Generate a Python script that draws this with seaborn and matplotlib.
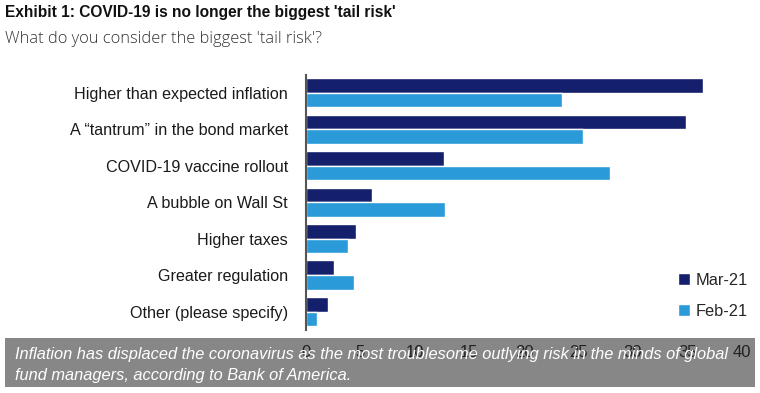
import pandas as pd
import seaborn as sns
import matplotlib.pyplot as plt
from matplotlib.patches import Rectangle

# Chart data
categories = [
    "Higher than expected inflation",
    "A \u201ctantrum\u201d in the bond market",
    "COVID-19 vaccine rollout",
    "A bubble on Wall St",
    "Higher taxes",
    "Greater regulation",
    "Other (please specify)",
]
mar_21 = [36.4, 34.9, 12.7, 6.1, 4.6, 2.6, 2.0]
feb_21 = [23.5, 25.4, 27.9, 12.8, 3.9, 4.4, 1.0]
series = ["Mar-21", "Feb-21"]
x_ticks = [0, 5, 10, 15, 20, 25, 30, 35, 40]

df = pd.DataFrame({
    "risk": categories * 2,
    "share": mar_21 + feb_21,
    "month": [series[0]] * len(categories) + [series[1]] * len(categories),
})

sns.set_theme(style="white")
plt.rcParams["font.family"] = ["Liberation Sans", "DejaVu Sans"]

fig = plt.figure(figsize=(7.6, 3.93), dpi=100)
ax = fig.add_axes([0.4026, 0.161, 0.5737, 0.649])
ax.set_zorder(2)
ax.patch.set_alpha(0)

sns.barplot(data=df, y="risk", x="share", hue="month", order=categories,
            hue_order=series, palette=["#14206b", "#2b9ad8"], saturation=1,
            width=0.8, orient="h", ax=ax)

ax.set_xlim(0, 40)
ax.set_xticks(x_ticks)
ax.set_xlabel("")
ax.set_ylabel("")
for s in ["top", "right", "bottom"]:
    ax.spines[s].set_visible(False)
ax.spines["left"].set_color("#555555")
ax.spines["left"].set_linewidth(1.5)
ax.tick_params(axis="y", length=0, pad=13, labelsize=11.6, labelcolor="#1a1a1a")
ax.tick_params(axis="x", length=0, pad=11, labelsize=12, labelcolor="#222222")

handles, labels = ax.get_legend_handles_labels()
ax.legend(handles, labels, loc="center left", bbox_to_anchor=(0.892, 0.247),
          bbox_transform=fig.transFigure, frameon=False, fontsize=11.8,
          handlelength=0.75, handleheight=0.75, handletextpad=0.35,
          labelspacing=0.95, borderpad=0, borderaxespad=0)

# Titles
fig.text(0.007, 1 - 12 / 393, "Exhibit 1: COVID-19 is no longer the biggest 'tail risk'",
         fontsize=11.2, fontweight="bold", color="#111111", va="center")
fig.text(0.007, 1 - 43 / 393, "What do you consider the biggest 'tail risk'?",
         fontsize=11.8, family="Open Sans", fontweight="light", color="#333333",
         va="baseline")

# Caption overlay
fig.add_artist(Rectangle((5 / 760, 1 - 387 / 393), 750 / 760, 49 / 393,
                         transform=fig.transFigure, facecolor="#878787",
                         edgecolor="none", zorder=1))
fig.text(15 / 760, 1 - 359 / 393,
         "Inflation has displaced the coronavirus as the most troublesome outlying risk in the minds of global",
         fontsize=11.8, style="italic", color="white", va="baseline")
fig.text(15 / 760, 1 - 380 / 393, "fund managers, according to Bank of America.",
         fontsize=11.8, style="italic", color="white", va="baseline")

fig.savefig("out.png", dpi=100)
